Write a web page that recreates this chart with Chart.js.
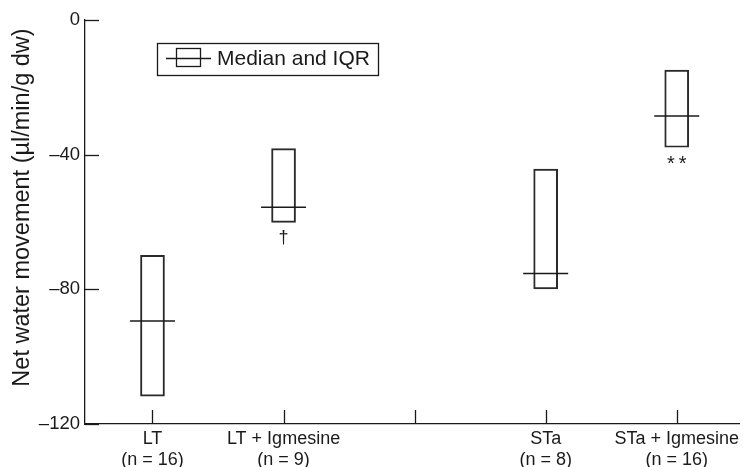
<!DOCTYPE html>
<html>
<head>
<meta charset="utf-8">
<script src="https://cdn.jsdelivr.net/npm/chart.js@4.4.1/dist/chart.umd.min.js"></script>
<style>
  html, body { margin: 0; padding: 0; background: #fff; }
  #wrap { width: 744px; height: 467px; position: relative; }
</style>
</head>
<body>
<div id="wrap"><canvas id="c"></canvas></div>
<script>
// ---- data ----
const categories   = ['LT', 'LT + Igmesine', '', 'STa', 'STa + Igmesine'];
const groupSizes   = ['(n = 16)', '(n = 9)', '', '(n = 8)', '(n = 16)'];
const q1Values     = [-111.7, -60.1, null, -79.9, -37.8];
const q3Values     = [-69.9, -38.2, null, -44.3, -14.9];
const medianValues = [-89.4, -55.6, null, -75.3, -28.5];
const significance = ['', '\u2020', '', '', '**'];
const yTicks       = [-120, -80, -40, 0];
const yTitle       = 'Net water movement (\u00b5l/min/g dw)';
const legendLabel  = 'Median and IQR';

const FONT = '"Liberation Sans", Arial, Helvetica, sans-serif';
const INK = '#1a1a1a';

const boxData = [];
const medData = [];
categories.forEach((c, i) => {
  if (q1Values[i] !== null) {
    boxData.push({ x: i, y: [q1Values[i], q3Values[i]] });
    medData.push({ x: i, y: medianValues[i] });
  }
});

const decorPlugin = {
  id: 'decor',
  afterDraw(chart) {
    const ctx = chart.ctx;
    const xs = chart.scales.x, ys = chart.scales.y;
    const area = chart.chartArea;
    ctx.save();
    ctx.strokeStyle = INK;
    ctx.lineWidth = 1.3;
    // inward tick marks
    categories.forEach((c, i) => {
      const px = Math.round(xs.getPixelForValue(i)) + 0.5;
      ctx.beginPath();
      ctx.moveTo(px, area.bottom);
      ctx.lineTo(px, area.bottom - 14);
      ctx.stroke();
    });
    yTicks.forEach(v => {
      const py = Math.round(ys.getPixelForValue(v)) + 0.5;
      ctx.beginPath();
      ctx.moveTo(area.left, py);
      ctx.lineTo(area.left + 14, py);
      ctx.stroke();
    });
    // y axis title
    ctx.fillStyle = INK;
    ctx.save();
    ctx.translate(23, 207.5);
    ctx.rotate(-Math.PI / 2);
    ctx.font = '23.5px ' + FONT;
    ctx.textAlign = 'center';
    ctx.textBaseline = 'middle';
    ctx.fillText(yTitle, 0, 0);
    ctx.restore();
    // significance marks
    ctx.textAlign = 'center';
    categories.forEach((c, i) => {
      const s = significance[i];
      if (!s) return;
      const px = xs.getPixelForValue(i);
      const py = ys.getPixelForValue(q1Values[i]);
      if (s === '**') {
        ctx.font = '20px ' + FONT;
        ctx.textBaseline = 'alphabetic';
        ctx.fillText('*\u2009*', px, py + 23);
      } else {
        ctx.font = '18px ' + FONT;
        ctx.textBaseline = 'middle';
        ctx.fillText(s, px, py + 16);
      }
    });
    // legend box
    ctx.lineWidth = 1.3;
    ctx.strokeRect(157.5, 43.5, 221, 32);
    ctx.strokeRect(176.5, 48.5, 24, 18);
    ctx.beginPath();
    ctx.moveTo(166, 58.5);
    ctx.lineTo(211, 58.5);
    ctx.lineWidth = 1.5;
    ctx.stroke();
    ctx.font = '21px ' + FONT;
    ctx.textAlign = 'left';
    ctx.textBaseline = 'middle';
    ctx.fillText(legendLabel, 217, 59.5);
    ctx.restore();
  }
};

new Chart(document.getElementById('c'), {
  type: 'bar',
  data: {
    datasets: [
      {
        type: 'bar',
        data: boxData,
        backgroundColor: 'rgba(255,255,255,0)',
        borderColor: '#2a2a2a',
        borderWidth: 1.3,
        borderSkipped: false,
        barThickness: 24,
        order: 2
      },
      {
        type: 'line',
        data: medData,
        showLine: false,
        pointStyle: 'line',
        pointRadius: 22.5,
        pointHoverRadius: 22.5,
        pointBorderWidth: 1.5,
        pointBorderColor: INK,
        borderColor: INK,
        order: 1
      }
    ]
  },
  options: {
    responsive: true,
    maintainAspectRatio: false,
    animation: false,
    events: [],
    layout: { autoPadding: false, padding: { top: 20, right: 0, left: 0, bottom: 0 } },
    plugins: { legend: { display: false }, tooltip: { enabled: false } },
    scales: {
      x: {
        type: 'linear',
        offset: false,
        min: -0.515,
        max: 4.477,
        grid: { display: false, drawTicks: false, offset: false },
        border: { display: true, color: INK, width: 1.3 },
        afterBuildTicks: (scale) => { scale.ticks = categories.map((c, i) => ({ value: i })); },
        afterFit: (scale) => { scale.height = 43; },
        ticks: {
          includeBounds: false,
          autoSkip: false,
          maxRotation: 0,
          padding: 5,
          color: INK,
          font: { family: FONT, size: 18, lineHeight: 1.15 },
          callback: (v) => categories[v] ? [categories[v], groupSizes[v]] : ''
        }
      },
      y: {
        type: 'linear',
        min: -120,
        max: 0,
        grid: { display: false, drawTicks: false },
        border: { display: true, color: INK, width: 1.3 },
        afterBuildTicks: (scale) => { scale.ticks = yTicks.map(v => ({ value: v })); },
        afterFit: (scale) => { scale.width = 85; },
        ticks: {
          padding: 5,
          color: INK,
          font: { family: FONT, size: 18.5 },
          callback: (v) => v < 0 ? '\u2013' + Math.abs(v) : String(v)
        }
      }
    }
  },
  plugins: [decorPlugin]
});
</script>
</body>
</html>
